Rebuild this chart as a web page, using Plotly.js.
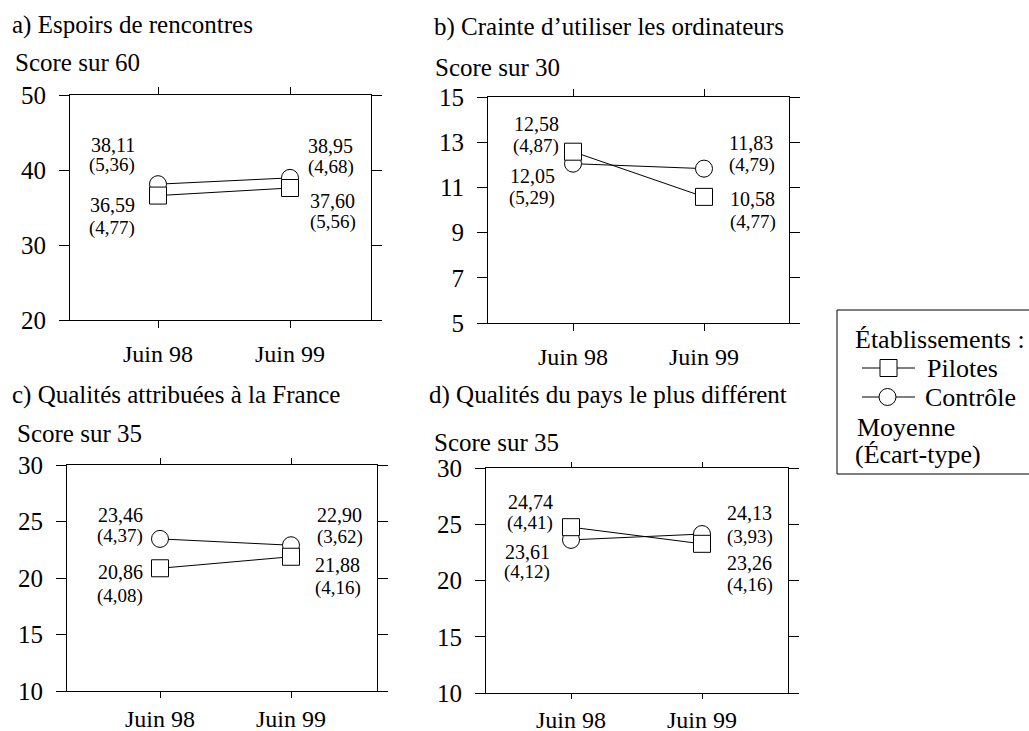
<!DOCTYPE html>
<html>
<head>
<meta charset="utf-8">
<script src="https://cdn.plot.ly/plotly-3.0.1.min.js"></script>
</head>
<body style="margin:0">
<div id="chart" style="width:1029px;height:731px"></div>
<script>
// ---------- data ----------
const categories = ['Juin 98', 'Juin 99'];
const panelTitles = ['a) Espoirs de rencontres', 'b) Crainte d\u2019utiliser les ordinateurs', 'c) Qualités attribuées à la France', 'd) Qualités du pays le plus différent'];
const scoreLabels = ['Score sur 60', 'Score sur 30', 'Score sur 35', 'Score sur 35'];

const pilotesA = [36.59, 37.60], pilotesSdA = [4.77, 5.56];
const controleA = [38.11, 38.95], controleSdA = [5.36, 4.68];
const pilotesB = [12.58, 10.58], pilotesSdB = [4.87, 4.77];
const controleB = [12.05, 11.83], controleSdB = [5.29, 4.79];
const pilotesC = [20.86, 21.88], pilotesSdC = [4.08, 4.16];
const controleC = [23.46, 22.90], controleSdC = [4.37, 3.62];
const pilotesD = [24.74, 23.26], pilotesSdD = [4.41, 4.16];
const controleD = [23.61, 24.13], controleSdD = [4.12, 3.93];

const yTicksA = [20, 30, 40, 50];
const yTicksB = [5, 7, 9, 11, 13, 15];
const yTicksC = [10, 15, 20, 25, 30];
const yTicksD = [10, 15, 20, 25, 30];

const legendTitle = 'Établissements :';
const seriesNames = ['Pilotes', 'Contrôle'];
const legendNote = ['Moyenne', '(Écart-type)'];

// ---------- layout helpers ----------
const W = 1029, H = 731;
const FONT = 'Liberation Serif';
const px = x => x / W;
const py = y => 1 - y / H;
const fmt = v => v.toFixed(2).replace('.', ',');

const panels = [
  {pil: pilotesA, pilSd: pilotesSdA, con: controleA, conSd: controleSdA, ticks: yTicksA,
   box: [70, 95, 371, 320], cat: [158, 290], xstand: 5, xlen: 7,
   title: [10, 25], score: [13, 63],
   P: [[-21, 9, 32], [18, 13, 34]], C: [[-21, -39, -19], [16, -32, -11]]},
  {pil: pilotesB, pilSd: pilotesSdB, con: controleB, conSd: controleSdB, ticks: yTicksB,
   box: [488, 97, 789, 323], cat: [573, 704], xstand: 5, xlen: 7,
   title: [432, 27], score: [433, 67],
   P: [[-12, -28, -6], [24, 2, 25]], C: [[-16, 12, 34], [23, -26, -4]]},
  {pil: pilotesC, pilSd: pilotesSdC, con: controleC, conSd: controleSdC, ticks: yTicksC,
   box: [67, 465, 377, 691], cat: [160, 291], xstand: 0, xlen: 6,
   title: [10, 395], score: [15, 433],
   P: [[-15, 4, 28], [22, 8, 31]], C: [[-15, -24, -3], [24, -30, -8]]},
  {pil: pilotesD, pilSd: pilotesSdD, con: controleD, conSd: controleSdD, ticks: yTicksD,
   box: [486, 468, 788, 693], cat: [571, 702], xstand: 0, xlen: 5,
   title: [427, 395], score: [432, 442],
   P: [[-16, -25, -4], [23, 19, 41]], C: [[-19, 12, 32], [23, -21, 3]]}
];

const traces = [];
const annotations = [];
const shapes = [];
const layout = {
  width: W, height: H,
  margin: {l: 0, r: 0, t: 0, b: 0},
  paper_bgcolor: '#fff', plot_bgcolor: '#fff',
  showlegend: false,
  font: {family: FONT},
  annotations: annotations,
  shapes: shapes
};

panels.forEach((p, i) => {
  const n = i === 0 ? '' : String(i + 1);
  const xa = 'x' + n, ya = 'y' + n;
  const [x0, y0, x1, y1] = p.box;
  const unit = p.cat[1] - p.cat[0];
  const xr = [(x0 - p.cat[0]) / unit, (x1 - p.cat[0]) / unit];
  const tickMin = p.ticks[0], tickMax = p.ticks[p.ticks.length - 1];

  layout['xaxis' + n] = {
    domain: [px(x0), px(x1)], anchor: ya, type: 'category',
    range: xr, showline: true, linecolor: '#000', linewidth: 1,
    mirror: 'allticks', ticks: 'outside', ticklen: p.xlen, tickcolor: '#000', tickwidth: 1,
    showgrid: false, zeroline: false, fixedrange: true,
    tickfont: {family: FONT, size: 24, color: '#000'}, ticklabelstandoff: p.xstand
  };
  layout['yaxis' + n] = {
    domain: [py(y1), py(y0)], anchor: xa,
    range: [tickMin, tickMax], tickvals: p.ticks, ticktext: p.ticks.map(String),
    showline: true, linecolor: '#000', linewidth: 1,
    mirror: 'allticks', ticks: 'outside', ticklen: 10, tickcolor: '#000', tickwidth: 1,
    showgrid: false, zeroline: false, fixedrange: true,
    tickfont: {family: FONT, size: 25, color: '#000'}, ticklabelstandoff: 8
  };

  traces.push({
    type: 'scatter', mode: 'lines+markers', name: seriesNames[1],
    x: categories, y: p.con, xaxis: xa, yaxis: ya, cliponaxis: false,
    line: {color: '#000', width: 1},
    marker: {symbol: 'circle', size: 17, color: '#fff', line: {color: '#000', width: 1}}
  });
  traces.push({
    type: 'scatter', mode: 'lines+markers', name: seriesNames[0],
    x: categories, y: p.pil, xaxis: xa, yaxis: ya, cliponaxis: false,
    line: {color: '#000', width: 1},
    marker: {symbol: 'square', size: 17, color: '#fff', line: {color: '#000', width: 1}}
  });

  const addLabels = (vals, sds, offs) => {
    vals.forEach((v, k) => {
      const [dx, dm, ds] = offs[k];
      const anchor = dx < 0 ? 'right' : 'left';
      annotations.push({
        xref: xa, yref: ya, x: categories[k], y: v, text: fmt(v),
        showarrow: false, xanchor: anchor, yanchor: 'middle',
        xshift: dx, yshift: -dm, font: {family: FONT, size: 20, color: '#000'}
      });
      annotations.push({
        xref: xa, yref: ya, x: categories[k], y: v, text: '(' + fmt(sds[k]) + ')',
        showarrow: false, xanchor: anchor, yanchor: 'middle',
        xshift: dx, yshift: -ds, font: {family: FONT, size: 19, color: '#000'}
      });
    });
  };
  addLabels(p.pil, p.pilSd, p.P);
  addLabels(p.con, p.conSd, p.C);

  annotations.push({
    xref: 'paper', yref: 'paper', x: px(p.title[0]), y: py(p.title[1]),
    text: panelTitles[i], showarrow: false, xanchor: 'left', yanchor: 'middle',
    font: {family: FONT, size: 25, color: '#000'}
  });
  annotations.push({
    xref: 'paper', yref: 'paper', x: px(p.score[0]), y: py(p.score[1]),
    text: scoreLabels[i], showarrow: false, xanchor: 'left', yanchor: 'middle',
    font: {family: FONT, size: 25, color: '#000'}
  });
});

// ---------- custom legend box ----------
shapes.push({type: 'rect', xref: 'paper', yref: 'paper',
  x0: px(837), x1: px(1040), y0: py(474), y1: py(310),
  line: {color: '#000', width: 1}, fillcolor: 'rgba(0,0,0,0)'});
const rowsY = [340, 368, 397, 427, 455];
annotations.push({xref: 'paper', yref: 'paper', x: px(853), y: py(rowsY[0]), text: legendTitle,
  showarrow: false, xanchor: 'left', yanchor: 'middle', font: {family: FONT, size: 26, color: '#000'}});
[0, 1].forEach(j => {
  const yy = rowsY[1 + j];
  shapes.push({type: 'line', xref: 'paper', yref: 'paper', x0: px(862), x1: px(915), y0: py(yy), y1: py(yy),
    line: {color: '#000', width: 1}});
  if (j === 0) {
    shapes.push({type: 'rect', xref: 'paper', yref: 'paper', x0: px(880), x1: px(897), y0: py(yy + 8.5), y1: py(yy - 8.5),
      line: {color: '#000', width: 1}, fillcolor: '#fff'});
  } else {
    shapes.push({type: 'circle', xref: 'paper', yref: 'paper', x0: px(879), x1: px(896), y0: py(yy + 8.5), y1: py(yy - 8.5),
      line: {color: '#000', width: 1}, fillcolor: '#fff'});
  }
  annotations.push({xref: 'paper', yref: 'paper', x: px(j === 0 ? 925 : 923), y: py(yy), text: seriesNames[j],
    showarrow: false, xanchor: 'left', yanchor: 'middle', font: {family: FONT, size: 26, color: '#000'}});
});
legendNote.forEach((t, j) => {
  annotations.push({xref: 'paper', yref: 'paper', x: px(j === 0 ? 855 : 853), y: py(rowsY[3 + j]), text: t,
    showarrow: false, xanchor: 'left', yanchor: 'middle', font: {family: FONT, size: 26, color: '#000'}});
});

Plotly.newPlot('chart', traces, layout, {displayModeBar: false});
</script>
</body>
</html>
